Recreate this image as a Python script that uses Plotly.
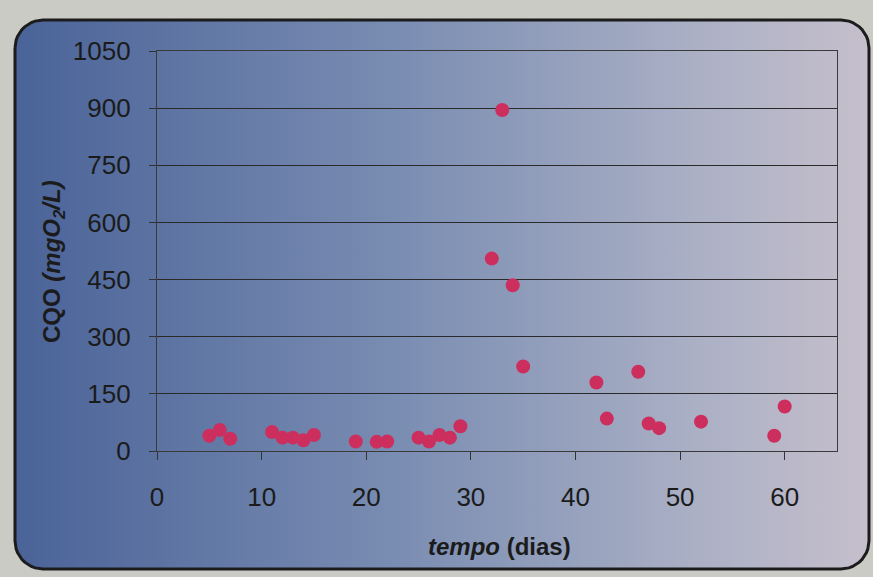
import numpy as np
import plotly.graph_objects as go

# ---- data ----
tempo_dias = [5, 6, 7, 11, 12, 13, 14, 15, 19, 21, 22, 25, 26, 27, 28, 29,
              32, 33, 34, 35, 42, 43, 46, 47, 48, 52, 59, 60]
cqo_mg_l = [40, 55, 32, 50, 35, 35, 28, 42, 25, 24, 25, 35, 25, 42, 35, 65,
            505, 895, 435, 222, 180, 85, 208, 72, 60, 77, 40, 117]
y_ticks = [0, 150, 300, 450, 600, 750, 900, 1050]
x_ticks = [0, 10, 20, 30, 40, 50, 60]

W, H = 873, 577
FONT = "Liberation Sans, Arial, sans-serif"
TXT = "#1b1b1b"

# plot area in pixels
L, R, T, B = 157, 837, 51, 451

# rounded panel outline (decoration)
px0, px1, py0, py1, rad = 15, 869, 20, 569, 28
def arc(cx, cy, a0, a1):
    a = np.linspace(np.radians(a0), np.radians(a1), 12)
    return list(cx + rad * np.cos(a)), list(cy + rad * np.sin(a))
xs, ys = [], []
for cx, cy, a0, a1 in [(px0 + rad, py0 + rad, 180, 270),
                       (px1 - rad, py0 + rad, 270, 360),
                       (px1 - rad, py1 - rad, 0, 90),
                       (px0 + rad, py1 - rad, 90, 180)]:
    ax_, ay_ = arc(cx, cy, a0, a1)
    xs += ax_; ys += ay_
xs.append(xs[0]); ys.append(ys[0])

fig = go.Figure()
fig.add_trace(go.Scatter(
    x=xs, y=ys, mode="lines", fill="toself",
    line=dict(color="#1c1c1c", width=3),
    fillgradient=dict(type="horizontal",
                      colorscale=[[0, "#4a6398"], [0.45, "#7a8db2"],
                                  [0.8, "#abb0c5"], [1, "#c6bfcc"]]),
    hoverinfo="skip", showlegend=False, xaxis="x", yaxis="y"))

fig.add_trace(go.Scatter(
    x=tempo_dias, y=cqo_mg_l, mode="markers",
    marker=dict(size=14, color="#cc2f5e", line=dict(width=0)),
    showlegend=False, xaxis="x2", yaxis="y2"))

fig.update_layout(
    width=W, height=H,
    margin=dict(l=0, r=0, t=0, b=0, pad=0, autoexpand=False),
    paper_bgcolor="#c9cbc4",
    plot_bgcolor="rgba(0,0,0,0)",
    font=dict(family=FONT, color=TXT),
    xaxis=dict(domain=[0, 1], range=[0, W], visible=False, fixedrange=True,
               automargin=False),
    yaxis=dict(domain=[0, 1], range=[H, 0], visible=False, fixedrange=True,
               automargin=False),
    xaxis2=dict(domain=[L / W, R / W], anchor="y2", range=[0, 65],
                tickvals=x_ticks, ticks="outside", ticklen=8, tickcolor="#333",
                showgrid=False, zeroline=False, showline=True, mirror=True,
                linecolor="#3a3a3a", linewidth=1.2, automargin=False,
                tickfont=dict(size=26, color=TXT, family=FONT),
                ticklabelstandoff=15),
    yaxis2=dict(domain=[1 - B / H, 1 - T / H], anchor="x2", range=[0, 1050],
                tickvals=y_ticks, ticks="outside", ticklen=7, tickcolor="#333",
                showgrid=True, gridcolor="#2a2a2a", gridwidth=1.3,
                zeroline=False, showline=True, mirror=True,
                linecolor="#3a3a3a", linewidth=1.2, automargin=False,
                tickfont=dict(size=26, color=TXT, family=FONT),
                ticklabelstandoff=13),
    annotations=[
        dict(text="<b><i>tempo</i> (dias)</b>", x=500 / W, y=1 - 546 / H,
             xref="paper", yref="paper", showarrow=False,
             xanchor="center", yanchor="middle",
             font=dict(size=24, color=TXT, family=FONT)),
        dict(text="<b>CQO <i>(mgO<sub>2</sub>/L)</i></b>", x=54 / W,
             y=1 - 262 / H, xref="paper", yref="paper", showarrow=False,
             xanchor="center", yanchor="middle",
             textangle=-90, font=dict(size=24, color=TXT, family=FONT)),
    ],
)

fig.write_html("out.html")
